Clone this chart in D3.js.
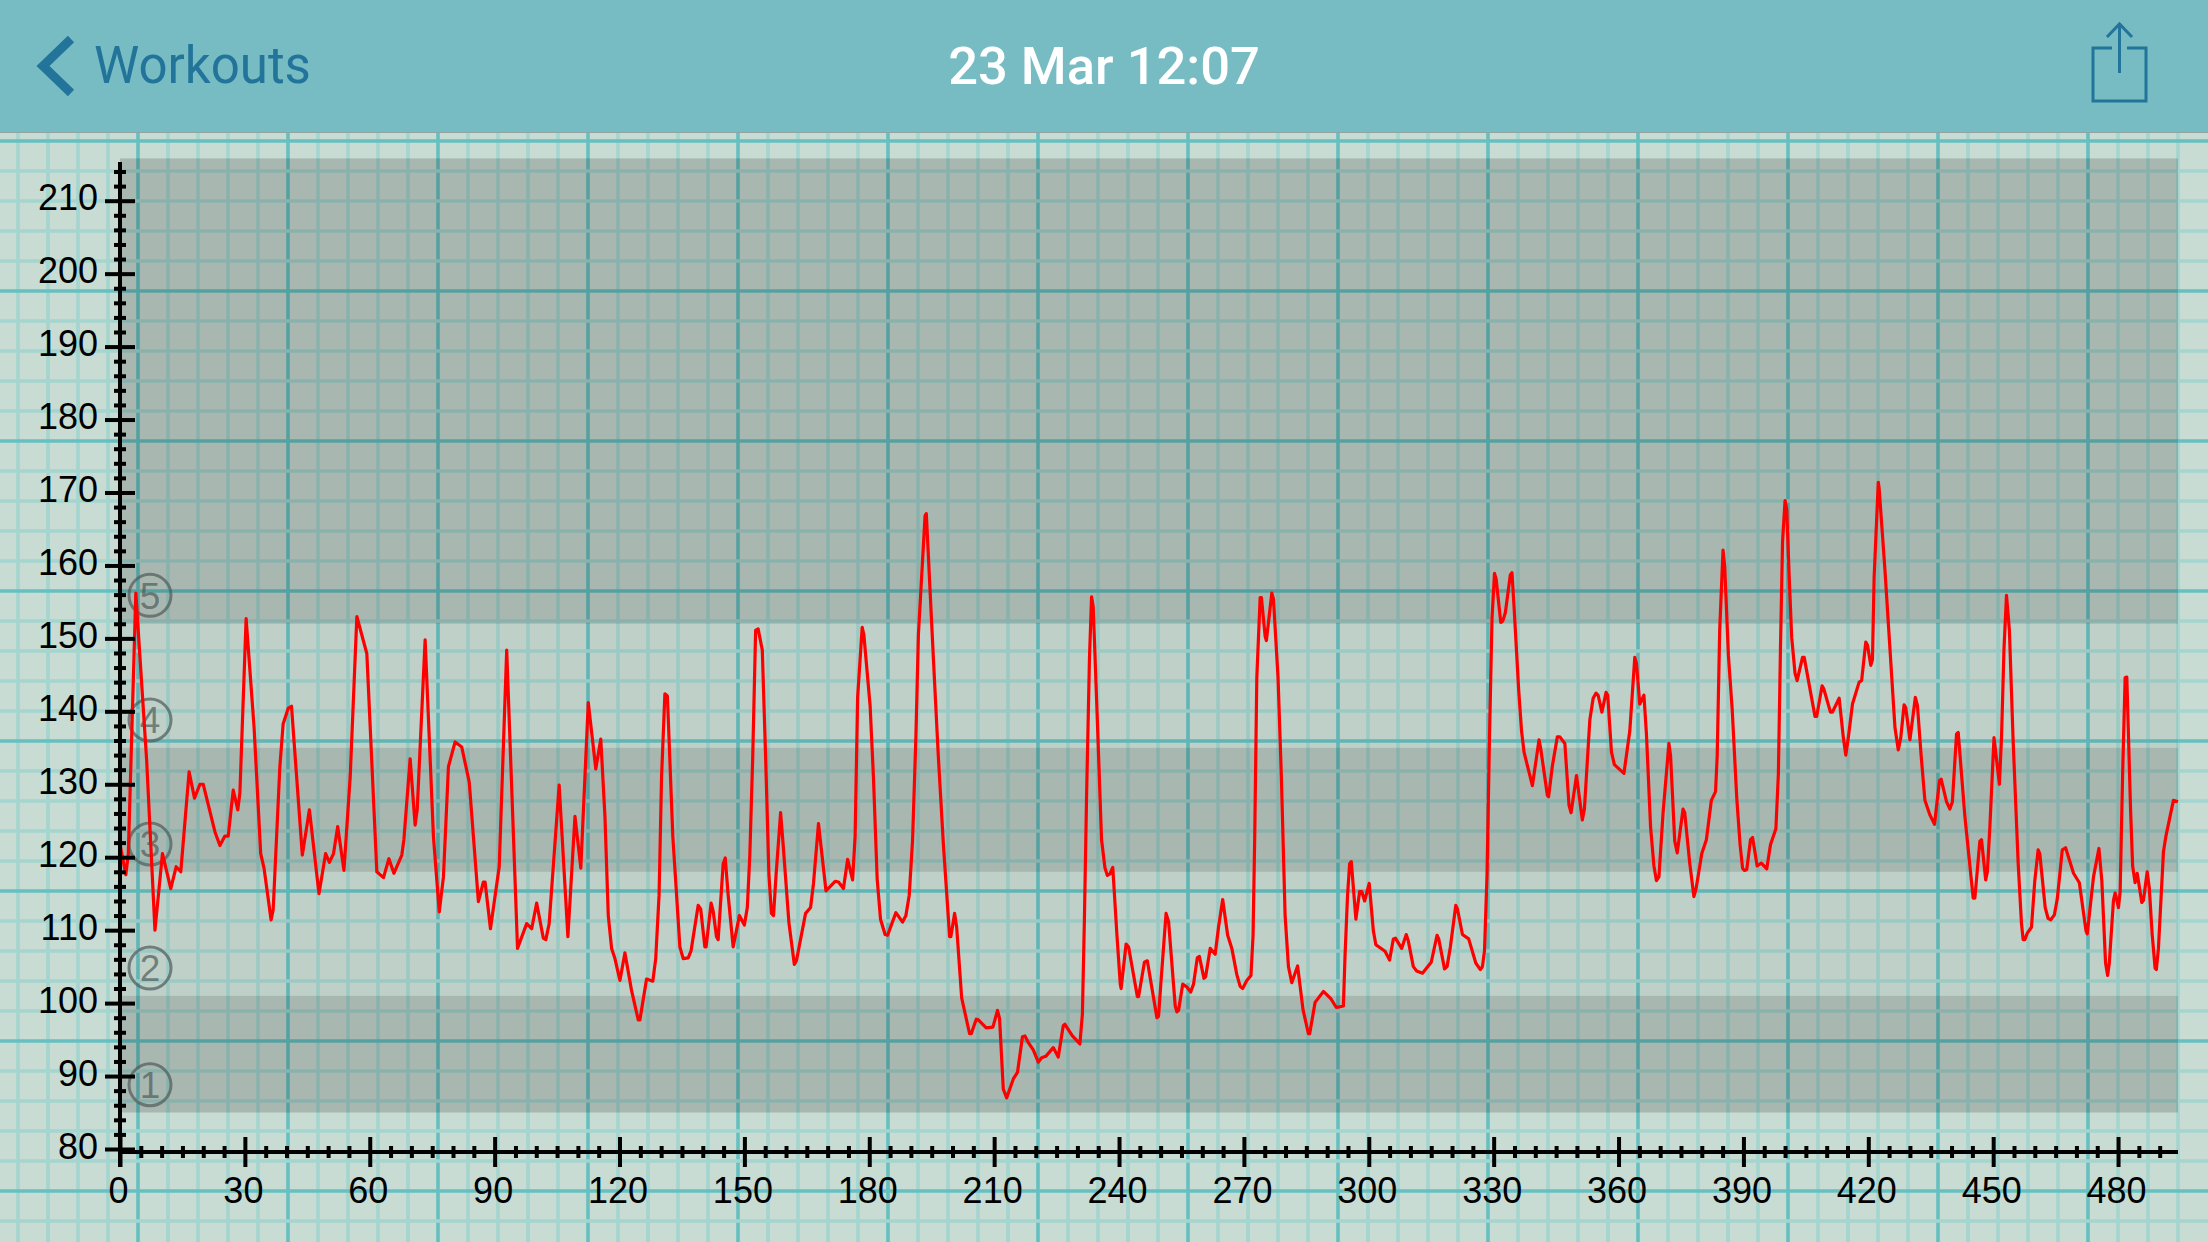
<!DOCTYPE html>
<html lang="en">
<head>
    <meta charset="UTF-8">
    <title>Workout heart rate</title>
    <style>
        html, body { margin: 0; padding: 0; background: #c9dcd3; }
        svg { display: block; }
        .tick-label { font-family: "Liberation Sans", sans-serif; font-size: 36px; fill: #000; }
        .nav { font-family: Roboto, sans-serif; font-size: 51px; }
        .nav-title { font-size: 52.5px; }
    </style>
</head>
<body>
    <svg id="chart" width="2208" height="1242"></svg>

    <script src="https://d3js.org/d3.v7.min.js"></script>
    <script>
        const backLabel = "Workouts";
        const titleLabel = "23 Mar 12:07";

        const xMajorTicks = [0, 30, 60, 90, 120, 150, 180, 210, 240, 270, 300, 330, 360, 390, 420, 450, 480];
        const yMajorTicks = [80, 90, 100, 110, 120, 130, 140, 150, 160, 170, 180, 190, 200, 210];

        // heart rate zones, bpm
        const darkZones = [[85, 101], [118, 135], [152, 215.8]];
        const lightZones = [[101, 118], [135, 152]];
        const zoneLabels = ["5", "4", "3", "2", "1"];
        const zoneLabelValues = [155.9, 138.8, 121.8, 104.8, 88.8];

        // values
        const seconds = [
            0, 1.4, 2, 3.8, 6.4, 8.4, 10.2, 12.2, 13.5, 14.6, 16.6, 17.9, 19.2, 20, 22.8, 24, 25.2, 26, 27.2, 28.3, 28.8,
            30.3, 32.2, 33.8, 34.6, 36.3, 36.8, 38.4, 39.2, 40.4, 41.2, 43.8, 45.5, 47.8, 49.4, 50.3, 51.3, 52.3, 53.8, 55.3, 56.9, 59.3,
            61.7, 63.3, 64.6, 65.8, 67.7, 68.2, 69.7, 70.9, 71.4, 73.3, 75.3, 76.7, 77.7, 78.9, 80.5, 82.1, 83.9, 86.1, 87.3, 87.7, 89,
            91.1, 92.9, 95.5, 97.7, 98.9, 100.1, 101.7, 102.3, 103.1, 105.5, 107.6, 109.3, 110.7, 112.5, 114.3, 115.5, 116.5, 117.3, 118.1, 118.9,
            120.1, 121.3, 122.9, 124.5, 124.9, 126.5, 128, 128.7, 129.5, 130.1, 130.9, 131.5, 132.8, 133.6, 134.5, 135.3, 136.5, 137.2, 138.9, 139.5,
            140.5, 140.8, 142, 142.5, 143.3, 143.7, 144.9, 145.4, 146.1, 147.3, 148.8, 150, 150.7, 151.3, 152, 152.7, 153.3, 154.3, 155.1, 155.9,
            156.5, 157, 157.6, 158.7, 159.3, 160.7, 162, 162.5, 164.7, 165.9, 166.6, 167.8, 169.6, 171.8, 172.6, 173.8, 174.8, 176, 176.6, 177.2,
            178.3, 178.7, 180.2, 181, 181.9, 182.7, 183.8, 184.4, 186.4, 188, 188.8, 189.6, 190.4, 191.2, 191.8, 193.4, 193.7, 195.4, 196.6, 197.8,
            199.3, 199.6, 200.5, 201, 202.2, 204.1, 204.5, 205.7, 206.2, 208.1, 209.7, 210.8, 211.3, 212.2, 213, 214.6, 215.6, 216.8, 217.4, 218.2,
            219.4, 220.6, 221.4, 222.4, 224.2, 225.4, 226.6, 227, 228.8, 230.6, 231.2, 231.7, 232.2, 232.9, 233.4, 233.8, 234.8, 235.8, 236.6, 237.2,
            237.8, 238.5, 239.5, 240.3, 240.5, 241.7, 242.3, 244.4, 244.7, 246.1, 246.8, 249.1, 249.5, 250, 251.3, 251.9, 253.5, 253.9, 254.3, 255.3,
            256.3, 257.2, 257.9, 258.8, 259.3, 260.4, 260.8, 261.9, 263.1, 263.9, 264.9, 266.1, 267.1, 268.3, 269.1, 269.7, 270.7, 271.7, 272.2, 272.6,
            273.1, 273.9, 274.2, 275.1, 275.4, 276.7, 277.1, 278.2, 279, 279.9, 280.7, 281.5, 282.9, 284.2, 285.5, 285.8, 287.1, 289.1, 290.9, 292.2,
            293.9, 294.3, 294.9, 295.4, 295.8, 296.9, 297.8, 298.3, 299, 300.1, 301.1, 301.7, 303.9, 305, 305.9, 306.4, 307.9, 309, 309.5, 310.7,
            311.5, 312.9, 315, 316.4, 316.8, 318.2, 318.8, 319.6, 320.9, 321.3, 322.5, 324, 325.7, 326.8, 327.3, 327.8, 328.4, 329, 329.6, 330.2,
            330.6, 331.7, 332.2, 332.8, 334, 334.4, 334.9, 336, 336.7, 337.3, 339.3, 340.9, 341.3, 342.9, 343.2, 344.1, 345.3, 345.9, 347.1, 348.1,
            348.6, 349.9, 351.3, 351.8, 353.1, 353.9, 354.6, 355.1, 356, 357, 357.4, 358.3, 359, 361.3, 362.7, 363.9, 364.3, 365.1, 366.1, 366.7,
            367.7, 368.5, 369.1, 369.7, 370.7, 372.1, 372.5, 373.5, 374.1, 375.5, 375.9, 377.1, 378.1, 378.6, 380, 381.1, 382.3, 383.3, 383.7, 384.3,
            385.1, 385.5, 386.4, 387.3, 388.4, 389.2, 389.8, 390.2, 390.8, 391.7, 392.2, 393.3, 394.3, 395.6, 396.5, 397.8, 398.4, 398.9, 399.4, 400,
            400.4, 401, 401.6, 402.4, 402.9, 404.2, 404.6, 407.2, 407.6, 408.9, 409.3, 410.9, 411.4, 413, 414, 414.6, 415.2, 416.2, 417.8, 418.4,
            419.4, 419.8, 420.6, 421, 421.4, 422.4, 422.6, 424, 425.2, 426.4, 427.2, 427.8, 428.6, 429, 430, 431.3, 431.8, 432.7, 433.6, 434.8,
            435.9, 437.1, 437.5, 438.8, 439.6, 440.2, 441.2, 441.6, 443.2, 445.2, 445.6, 446.8, 447.2, 448.2, 448.6, 449.2, 450.2, 451.5, 452, 452.6,
            453.2, 453.9, 454.8, 456, 456.8, 457.2, 457.6, 458.2, 459.2, 460, 460.8, 461.2, 462.5, 463.2, 463.8, 464.7, 465.4, 466.6, 467.4, 469.3,
            470.7, 472.3, 472.6, 474.1, 475.4, 476.1, 477, 477.5, 477.9, 478.9, 479.3, 480.1, 480.5, 481.1, 481.7, 482.1, 483, 483.5, 484.1, 484.6,
            485.7, 486.1, 487, 487.5, 488.2, 488.9, 489.2, 489.7, 490.9, 491.5, 493.3, 494.4
        ];
        const heartRate = [
            121.8, 117.6, 120.5, 156.2, 133.3, 110, 120.5, 115.7, 118.7, 118, 131.7, 128.1, 130, 130, 123.5, 121.6, 122.9, 122.9, 129.2, 126.5, 128.8,
            152.7, 137.9, 120.5, 118.5, 111.4, 112.8, 132.4, 138.3, 140.4, 140.7, 120.3, 126.5, 115, 120.5, 119.3, 120.5, 124.2, 118.2, 131, 153, 147.9,
            118, 117.2, 119.8, 117.8, 120.3, 122.4, 133.5, 124.4, 126.5, 149.8, 122.8, 112.5, 117.3, 132.4, 135.8, 135.1, 130.3, 113.9, 116.6, 116.6, 110.2,
            118.7, 148.4, 107.5, 110.9, 110.2, 113.7, 108.9, 108.7, 110.9, 129.9, 109.1, 125.6, 118.5, 141.2, 132.1, 136.2, 125.6, 112, 107.5, 106.1,
            103.1, 106.9, 101.7, 97.7, 97.7, 103.3, 103, 106.1, 114.8, 131, 142.4, 142.1, 122.9, 115.8, 107.7, 106.1, 106.2, 107.2, 113.4, 112.9,
            107.7, 107.7, 113.7, 112.6, 109.1, 108.7, 119.1, 119.9, 114.8, 107.7, 112, 110.7, 113.1, 120.2, 133.7, 151.1, 151.3, 148.4, 133.7, 117.5,
            112.3, 112, 117.5, 126.1, 121.8, 111, 105.3, 105.8, 112.3, 113.1, 116.4, 124.6, 115.4, 116.7, 116.6, 115.7, 119.7, 116.9, 122.9, 141.9,
            151.5, 150.5, 140.8, 131, 117, 111.5, 109.4, 109.3, 112.4, 111.1, 112, 114.8, 122.3, 136.5, 150.5, 166.8, 167.1, 147.3, 133.7, 121.8,
            109.1, 109.1, 112.3, 110.4, 100.7, 95.8, 95.8, 97.8, 97.7, 96.6, 96.7, 99, 97.9, 88.2, 87, 89.6, 90.5, 95.4, 95.5, 94.6,
            93.6, 91.9, 92.5, 92.7, 93.9, 92.6, 96.9, 97.1, 95.5, 94.4, 98.5, 112, 128.3, 147.3, 155.7, 154.3, 138.6, 122.4, 118.6, 117.5,
            117.7, 118.6, 109.3, 102.6, 102, 108.1, 107.7, 100.9, 100.9, 105.6, 105.8, 98, 98.2, 102.3, 112.3, 111.2, 99.6, 98.8, 99, 102.6,
            102.2, 101.5, 102.6, 106.2, 106.4, 103.4, 103.6, 107.5, 106.7, 110.4, 114.2, 109.3, 107.5, 103.9, 102.3, 102, 103.1, 103.8, 109.3, 122.9,
            144.6, 155.6, 155.6, 150.3, 149.7, 156.2, 155.4, 144.6, 131, 112, 105, 102.8, 105.1, 99.1, 95.8, 95.8, 100.1, 101.6, 100.6, 99.4,
            99.6, 106.6, 114.8, 119.1, 119.4, 111.5, 115.3, 115.3, 114, 116.4, 109.9, 108, 107.1, 105.9, 108.8, 108.9, 107.5, 109.4, 108.5, 105,
            104.4, 104.1, 105.6, 109.3, 108.8, 104.7, 105, 107.7, 113.4, 112.9, 109.4, 108.8, 105.5, 104.6, 105, 107.2, 117.5, 136.5, 152.7, 158.9,
            158.1, 152.2, 152.4, 153.5, 158.7, 159, 154.3, 143, 137.3, 134.4, 129.8, 136.1, 134.9, 128.5, 128.3, 132.5, 136.5, 136.5, 135.6, 127.1,
            126.1, 131.2, 125.1, 126.6, 138.8, 141.8, 142.5, 142.2, 139.9, 142.6, 142.2, 134.4, 132.7, 131.5, 137.3, 147.4, 146.6, 141, 142.2, 136.9,
            124.1, 118.8, 116.8, 117.3, 126.1, 135.6, 133.9, 122.2, 120.6, 126.6, 126.1, 119.2, 114.6, 115.6, 120.5, 122.4, 127.8, 129, 133.9, 151.1,
            162.1, 159.9, 147.6, 140.3, 128.1, 121.7, 118.5, 118.2, 118.3, 122.4, 122.7, 118.8, 119.2, 118.4, 121.7, 123.9, 131.5, 148.6, 163.3, 168.9,
            167.7, 158.4, 150.1, 145.2, 144.2, 147.4, 147.4, 139.3, 139.3, 143.5, 143.1, 139.9, 139.9, 141.8, 136.4, 134, 136.4, 141, 144, 144.2,
            149.5, 149.1, 146.3, 147.1, 158.4, 171.4, 170.6, 159.4, 148.6, 137.8, 134.7, 136.4, 140.9, 140.5, 136.1, 141.9, 140.8, 133.9, 127.8, 125.8,
            124.5, 130.5, 130.7, 127.6, 126.6, 127.6, 136.9, 137.1, 125.6, 114.4, 114.4, 122.2, 122.4, 116.9, 118, 124.1, 136.4, 130, 136.4, 148.6,
            155.9, 151.1, 135.9, 119.2, 110.9, 108.7, 108.7, 109.6, 110.4, 116.8, 121, 120.5, 113.1, 111.6, 111.4, 112.1, 114.3, 121, 121.3, 117.8,
            116.5, 109.9, 109.5, 117.3, 121.2, 116.8, 105.5, 103.8, 105.5, 114.1, 115.1, 113.1, 115.3, 131.5, 144.6, 144.7, 126.6, 118.8, 116.5, 117.8,
            113.8, 114.1, 118, 115.8, 109.4, 104.8, 104.6, 107.5, 120.7, 122.9, 127.8, 127.6
        ];

        const width = 2208, height = 1242, headerH = 132;
        const axisX = 120, axisY = 1152;

        const x = d3.scaleLinear().domain([0, 494.4]).range([axisX, 2178]);
        const y = d3.scaleLinear().domain([80, 210]).range([1149, 200.7]);

        const svg = d3.select("#chart");

        // graph paper
        svg.append("rect").attr("width", width).attr("height", height).attr("fill", "#c9dcd3");
        const paper = svg.append("g").attr("stroke-width", 3.6);
        const minorPaperColor = "#a4d5cf", majorPaperColor = "#66c0c1";
        d3.range(18, width, 30).forEach((px, i) => {
            paper.append("line").attr("x1", px).attr("x2", px).attr("y1", headerH).attr("y2", height)
                .attr("stroke", i % 5 === 4 ? majorPaperColor : minorPaperColor);
        });
        d3.range(21, height, 30).forEach((py, i) => {
            paper.append("line").attr("x1", 0).attr("x2", width).attr("y1", py).attr("y2", py)
                .attr("stroke", i % 5 === 4 ? majorPaperColor : minorPaperColor);
        });

        // zones
        const zoneRect = (g, data, opacity) => g.selectAll("rect").data(data).enter().append("rect")
            .attr("x", x(0))
            .attr("width", x.range()[1] - x(0))
            .attr("y", d => y(d[1]))
            .attr("height", d => y(d[0]) - y(d[1]))
            .attr("fill", "#000")
            .attr("fill-opacity", opacity);
        zoneRect(svg.append("g"), darkZones, 0.16);
        zoneRect(svg.append("g"), lightZones, 0.05);

        // zone markers
        const markers = svg.append("g");
        markers.selectAll("circle").data(zoneLabelValues).enter().append("circle")
            .attr("cx", 150)
            .attr("cy", d => y(d))
            .attr("r", 21)
            .attr("fill", "none")
            .attr("stroke", "#505a58")
            .attr("stroke-opacity", 0.7)
            .attr("stroke-width", 3);
        markers.selectAll("text").data(zoneLabels).enter().append("text")
            .attr("x", 150)
            .attr("y", (d, i) => y(zoneLabelValues[i]))
            .attr("dy", "0.36em")
            .attr("text-anchor", "middle")
            .attr("font-family", "Liberation Sans, sans-serif")
            .attr("font-size", 37)
            .attr("fill", "#505a58")
            .attr("fill-opacity", 0.7)
            .text(d => d);

        // heart rate line
        const line = d3.line().x((d, i) => x(seconds[i])).y(d => y(d)).curve(d3.curveLinear);
        svg.append("path")
            .datum(heartRate)
            .attr("d", line)
            .attr("fill", "none")
            .attr("stroke", "#ff0000")
            .attr("stroke-width", 3.2)
            .attr("stroke-linejoin", "round");

        // axes
        const blackAxis = g => {
            g.selectAll("path").remove();
            g.selectAll("line").attr("stroke", "#000").attr("stroke-width", 4);
        };

        const yMinor = d3.range(80, 216, 2).filter(v => v % 10 !== 0);
        svg.append("g")
            .attr("transform", `translate(${axisX},0)`)
            .call(d3.axisLeft(y).tickValues(yMinor).tickSize(6).tickFormat(""))
            .call(blackAxis)
            .call(g => g.selectAll("line").attr("x2", -6).attr("x1", 6));

        svg.append("g")
            .attr("transform", `translate(${axisX},0)`)
            .call(d3.axisLeft(y).tickValues(yMajorTicks).tickSize(15).tickPadding(0).tickFormat(d3.format("d")))
            .call(blackAxis)
            .call(g => g.selectAll("line").attr("x2", -15).attr("x1", 15))
            .call(g => g.selectAll("text")
                .attr("class", "tick-label")
                .attr("x", -22)
                .attr("dy", "0.25em")
                .attr("font-family", null)
                .attr("font-size", null));

        const xMinor = d3.range(0, 494, 5).filter(v => v % 30 !== 0);
        svg.append("g")
            .attr("transform", `translate(0,${axisY})`)
            .call(d3.axisBottom(x).tickValues(xMinor).tickSize(6).tickFormat(""))
            .call(blackAxis)
            .call(g => g.selectAll("line").attr("y1", -6).attr("y2", 6));

        svg.append("g")
            .attr("transform", `translate(0,${axisY})`)
            .call(d3.axisBottom(x).tickValues(xMajorTicks).tickSize(15).tickFormat(d3.format("d")))
            .call(blackAxis)
            .call(g => g.selectAll("line").attr("y1", -15).attr("y2", 15))
            .call(g => g.selectAll("text")
                .attr("class", "tick-label")
                .attr("y", 51)
                .attr("dy", 0)
                .attr("dx", -2)
                .attr("font-family", null)
                .attr("font-size", null));

        // axis spines
        svg.append("line").attr("x1", axisX).attr("x2", axisX).attr("y1", 162).attr("y2", 1167)
            .attr("stroke", "#000").attr("stroke-width", 4);
        svg.append("line").attr("x1", axisX).attr("x2", 2178).attr("y1", axisY).attr("y2", axisY)
            .attr("stroke", "#000").attr("stroke-width", 4);

        // nav bar
        const navColor = "#22749a";
        svg.append("rect").attr("width", width).attr("height", headerH).attr("fill", "#77bcc3");
        svg.append("line").attr("x1", 0).attr("x2", width).attr("y1", headerH + 0.5).attr("y2", headerH + 0.5)
            .attr("stroke", "#8fa5a4").attr("stroke-width", 1);
        svg.append("path").attr("d", "M71,39 L43,66 L71,93")
            .attr("fill", "none").attr("stroke", navColor).attr("stroke-width", 9);
        svg.append("text").attr("class", "nav").attr("x", 94).attr("y", 83)
            .attr("fill", navColor).text(backLabel);
        svg.append("text").attr("class", "nav nav-title").attr("x", 1104).attr("y", 84)
            .attr("text-anchor", "middle").attr("fill", "#fff").attr("font-weight", 500).text(titleLabel);
        svg.append("path")
            .attr("d", "M2112,48 H2093 V101 H2146 V48 H2127 M2119.5,73 V24 M2107,37 L2119.5,24 L2132,37")
            .attr("fill", "none").attr("stroke", navColor).attr("stroke-width", 3);
    </script>
</body>
</html>
